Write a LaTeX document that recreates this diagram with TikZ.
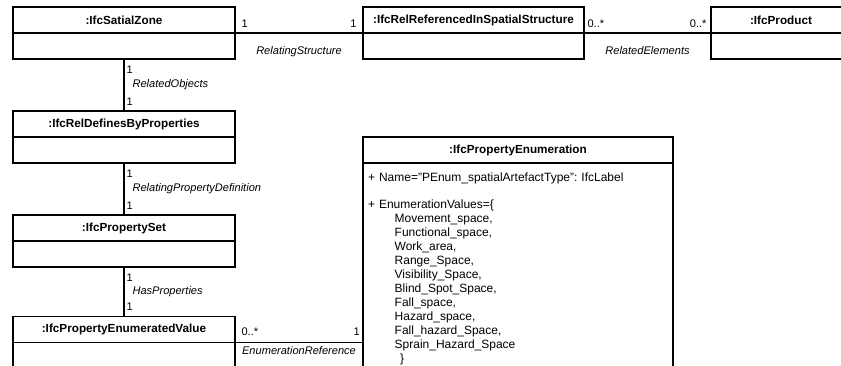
\documentclass[tikz,border=0pt]{standalone}
\usepackage{fontspec}
\setmainfont{Liberation Sans}
\usetikzlibrary{positioning}
\frenchspacing
\tikzset{
  head/.style={draw, line width=0.8pt, outer sep=0pt, inner sep=0pt, minimum height=19.5pt,
    font=\fontsize{8.8}{10.5}\selectfont\bfseries},
  body/.style={draw, line width=0.8pt, outer sep=0pt, inner sep=0pt, minimum height=19.5pt},
  link/.style={line width=0.8pt},
  mult/.style={font=\fontsize{8.3}{10}\selectfont, inner sep=1.5pt},
  role/.style={font=\fontsize{8.3}{10}\selectfont\itshape, inner sep=1.5pt},
}
\begin{document}
\begin{tikzpicture}[x=0.75pt, y=-0.75pt]
  \useasboundingbox (0,0) rectangle (841,365);
  \clip (0,0) rectangle (841,365);
  % top row
  \node[head, minimum width=166.5pt] (zone) at (124,20) {:IfcSatialZone};
  \node[body, minimum width=166.5pt, below=0pt of zone] (zonebody) {};
  \node[head, minimum width=165.75pt] (refspat) at (473.5,20) {:IfcRelReferencedInSpatialStructure};
  \node[body, minimum width=165.75pt, below=0pt of refspat] (refspatbody) {};
  \node[head, minimum width=105pt] (product) at (781,20) {:IfcProduct};
  \node[body, minimum width=105pt, below=0pt of product] (productbody) {};
  % left column
  \node[head, minimum width=166.5pt] (reldef) at (124,124) {:IfcRelDefinesByProperties};
  \node[body, minimum width=166.5pt, below=0pt of reldef] (reldefbody) {};
  \node[head, minimum width=166.5pt] (propset) at (124,228) {:IfcPropertySet};
  \node[body, minimum width=166.5pt, below=0pt of propset] (propsetbody) {};
  \node[head, minimum width=166.5pt] (enumval) at (124,329.5) {:IfcPropertyEnumeratedValue};
  \node[body, minimum width=166.5pt, below=0pt of enumval] (enumvalbody) {};
  % enumeration
  \node[head, minimum width=232.5pt] (enum) at (518,150) {:IfcPropertyEnumeration};
  \node[body, below=0pt of enum, text width=225pt, inner xsep=3.75pt, inner ysep=7.5pt, align=left,
    font=\fontsize{9}{10.5}\selectfont] (enumbody) {%
    + Name="PEnum\_spatialArtefactType": IfcLabel\\[9.75pt]
    + EnumerationValues=\{\\
    \hspace*{20pt}Movement\_space,\\
    \hspace*{20pt}Functional\_space,\\
    \hspace*{20pt}Work\_area,\\
    \hspace*{20pt}Range\_Space,\\
    \hspace*{20pt}Visibility\_Space,\\
    \hspace*{20pt}Blind\_Spot\_Space,\\
    \hspace*{20pt}Fall\_space,\\
    \hspace*{20pt}Hazard\_space,\\
    \hspace*{20pt}Fall\_hazard\_Space,\\
    \hspace*{20pt}Sprain\_Hazard\_Space\\
    \hspace*{24pt}\}};
  % links
  \draw[link] (zone.south east)
    -- node[mult, pos=0, anchor=south west, xshift=3pt, yshift=2.25pt] {1}
       node[mult, pos=1, anchor=south east, xshift=-3pt, yshift=2.25pt] {1}
       node[role, midway, anchor=north, yshift=-8pt] {RelatingStructure}
    (refspat.south west);
  \draw[link] (refspat.south east)
    -- node[mult, pos=0, anchor=south west, xshift=0.75pt, yshift=2.25pt] {0..*}
       node[mult, pos=1, anchor=south east, xshift=-1.5pt, yshift=2.25pt] {0..*}
       node[role, midway, anchor=north, yshift=-8pt] {RelatedElements}
    (product.south west);
  \draw[link] (zonebody.south)
    -- node[mult, pos=0, anchor=north west, yshift=-3.5pt] {1}
       node[role, midway, anchor=west, xshift=4.5pt] {RelatedObjects}
       node[mult, pos=1, anchor=south west, yshift=2.25pt] {1}
    (reldef.north);
  \draw[link] (reldefbody.south)
    -- node[mult, pos=0, anchor=north west, yshift=-3.5pt] {1}
       node[role, midway, anchor=west, xshift=4.5pt] {RelatingPropertyDefinition}
       node[mult, pos=1, anchor=south west, yshift=2.25pt] {1}
    (propset.north);
  \draw[link] (propsetbody.south)
    -- node[mult, pos=0, anchor=north west, yshift=-3.5pt] {1}
       node[role, midway, anchor=west, xshift=4.5pt] {HasProperties}
       node[mult, pos=1, anchor=south west, yshift=2.25pt] {1}
    (enumval.north);
  \draw[link] (enumval.south east)
    -- node[mult, pos=0, anchor=south west, xshift=3pt, yshift=3pt] {0..*}
       node[mult, pos=1, anchor=south east, xshift=-0.5pt, yshift=3pt] {1}
       node[role, midway, anchor=north, yshift=-1pt] {EnumerationReference}
    (enumval.south east -| enumbody.west);
\end{tikzpicture}
\end{document}
